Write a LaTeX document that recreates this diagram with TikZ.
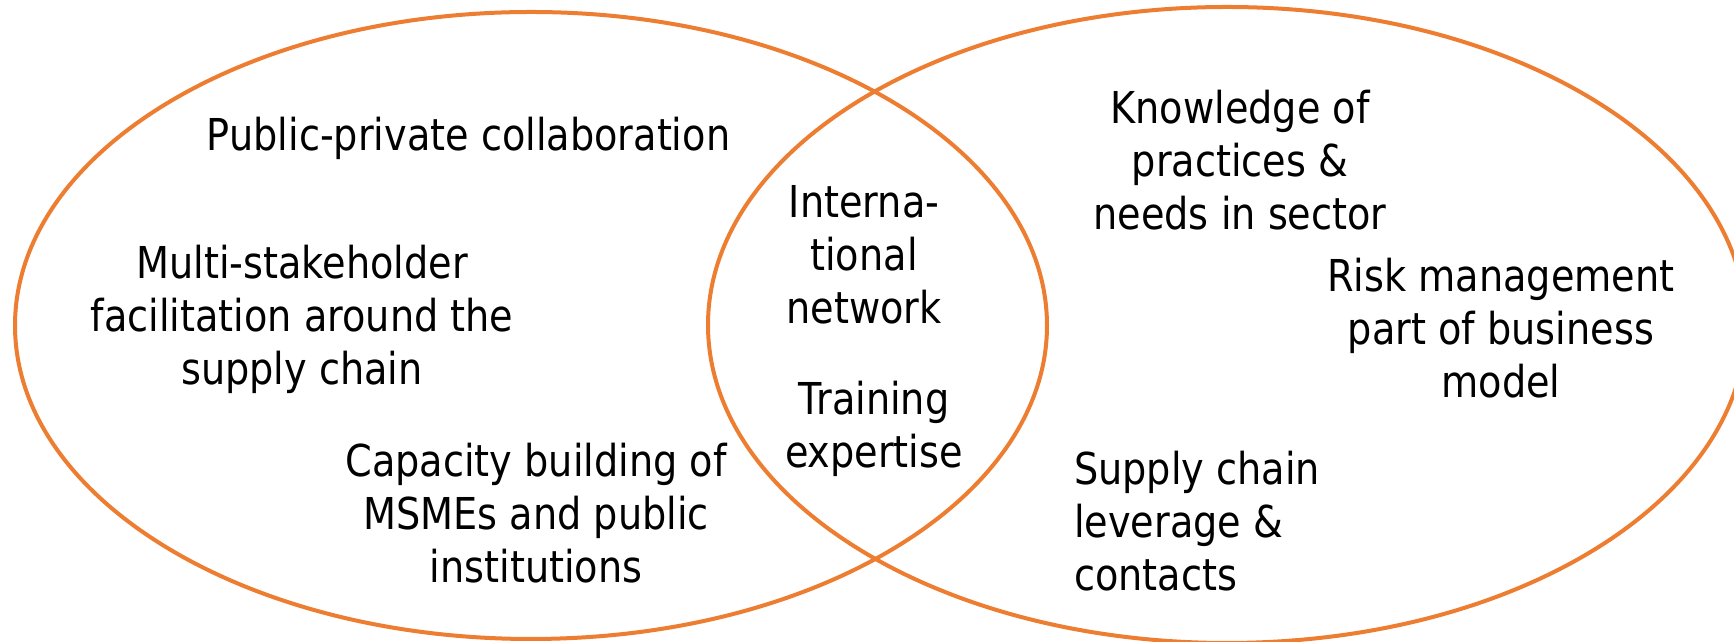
\documentclass[tikz,border=0pt]{standalone}
\usepackage{fontspec}
\setmainfont{DejaVu Sans}[FakeStretch=0.87]
\usepackage{tikz}
\usetikzlibrary{shapes.geometric, positioning}
\definecolor{vennFg}{RGB}{237, 125, 49}
\tikzstyle{venn} = [ellipse, draw=vennFg, line width=0.4mm, inner sep=0pt]
\tikzstyle{itemtext} = [inner sep=0pt, align=center, text=black, font=\fontsize{12.5}{15.1}\selectfont]

\begin{document}
\begin{tikzpicture}[node distance=0mm]
\useasboundingbox (0,0) rectangle (17.34,-6.42);

\node (lset) [venn, minimum width=103.2mm, minimum height=62.7mm] at (5.31,-3.255) {};
\node (rset) [venn, minimum width=103.8mm, minimum height=63.6mm] at (12.27,-3.25) {};

% left set
\node (pubpriv) [itemtext, anchor=base, xshift=-6.25mm, yshift=17.45mm] at(lset.center) {Public-private collaboration};
\node (multi) [itemtext, anchor=base, xshift=-22.9mm, yshift=-5.9mm] at(lset.center) {Multi-stakeholder\\facilitation around the\\supply chain};
\node (capacity) [itemtext, anchor=base, xshift=0.5mm, yshift=-25.7mm] at(lset.center) {Capacity building of\\MSMEs and public\\institutions};

% overlap
\node (intl) [itemtext, anchor=base, xshift=33.3mm, yshift=0.2mm] at(lset.center) {Interna-\\tional\\network};
\node (training) [itemtext, anchor=base, xshift=34.3mm, yshift=-14.2mm] at(lset.center) {Training\\expertise};

% right set
\node (knowledge) [itemtext, anchor=base, xshift=1.3mm, yshift=9.55mm] at(rset.center) {Knowledge of\\practices \&\\needs in sector};
\node (risk) [itemtext, anchor=base, xshift=27.4mm, yshift=-7.25mm] at(rset.center) {Risk management\\part of business\\model};
\node (supply) [itemtext, align=left, anchor=base west, xshift=-15.35mm, yshift=-26.55mm] at(rset.center) {Supply chain\\leverage \&\\contacts};

\end{tikzpicture}
\end{document}
